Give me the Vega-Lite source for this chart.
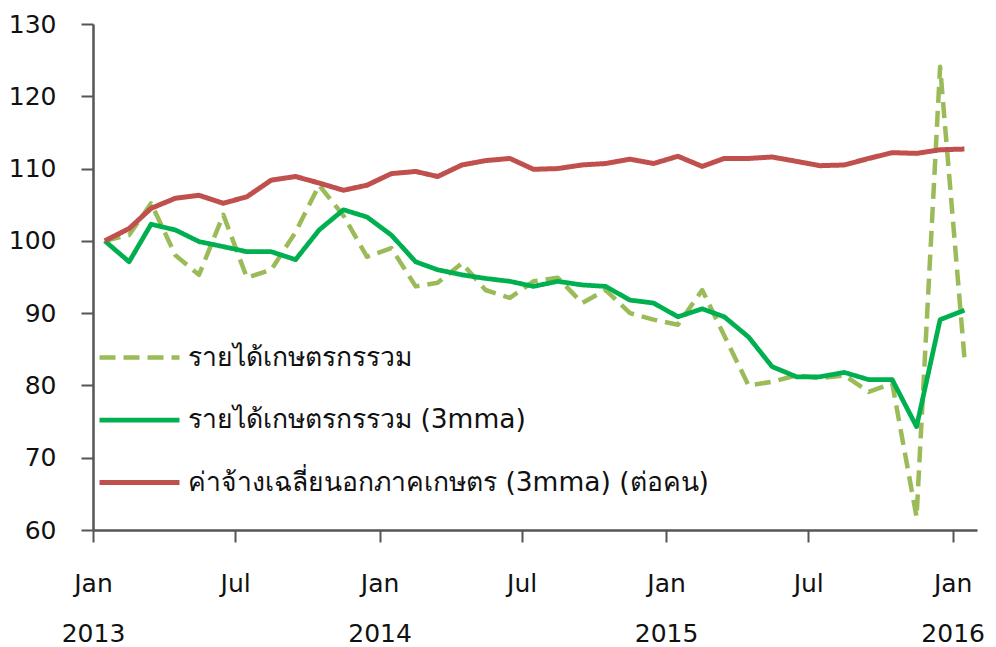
{
  "$schema": "https://vega.github.io/schema/vega-lite/v6.json",
  "width": 884,
  "height": 506,
  "autosize": "none",
  "padding": {"left": 93, "top": 24, "right": 19, "bottom": 117},
  "background": "white",
  "config": {
    "view": {"stroke": null},
    "font": "DejaVu Sans",
    "axis": {"grid": false}
  },
  "data": {
    "values": [
      {"m": "2013-01", "d": 100, "g": 100, "r": 100},
      {"m": "2013-02", "d": 100.8, "g": 97.1, "r": 101.7},
      {"m": "2013-03", "d": 105.2, "g": 102.3, "r": 104.5},
      {"m": "2013-04", "d": 98, "g": 101.5, "r": 105.9},
      {"m": "2013-05", "d": 95.3, "g": 99.9, "r": 106.3},
      {"m": "2013-06", "d": 103.6, "g": 99.2, "r": 105.2},
      {"m": "2013-07", "d": 94.9, "g": 98.5, "r": 106.1},
      {"m": "2013-08", "d": 96, "g": 98.5, "r": 108.4},
      {"m": "2013-09", "d": 101.2, "g": 97.4, "r": 108.9},
      {"m": "2013-10", "d": 107.7, "g": 101.5, "r": 108.0},
      {"m": "2013-11", "d": 103.5, "g": 104.3, "r": 107.0},
      {"m": "2013-12", "d": 97.8, "g": 103.3, "r": 107.7},
      {"m": "2014-01", "d": 99, "g": 100.8, "r": 109.3},
      {"m": "2014-02", "d": 93.7, "g": 97.1, "r": 109.6},
      {"m": "2014-03", "d": 94.2, "g": 96.0, "r": 108.9},
      {"m": "2014-04", "d": 96.9, "g": 95.3, "r": 110.5},
      {"m": "2014-05", "d": 93.2, "g": 94.8, "r": 111.1},
      {"m": "2014-06", "d": 92.1, "g": 94.4, "r": 111.4},
      {"m": "2014-07", "d": 94.4, "g": 93.7, "r": 109.9},
      {"m": "2014-08", "d": 94.9, "g": 94.4, "r": 110.0},
      {"m": "2014-09", "d": 91.4, "g": 93.9, "r": 110.5},
      {"m": "2014-10", "d": 93.2, "g": 93.7, "r": 110.7},
      {"m": "2014-11", "d": 90.0, "g": 91.8, "r": 111.3},
      {"m": "2014-12", "d": 89.1, "g": 91.4, "r": 110.7},
      {"m": "2015-01", "d": 88.4, "g": 89.5, "r": 111.7},
      {"m": "2015-02", "d": 93.2, "g": 90.6, "r": 110.3},
      {"m": "2015-03", "d": 86.9, "g": 89.5, "r": 111.4},
      {"m": "2015-04", "d": 80.0, "g": 86.7, "r": 111.4},
      {"m": "2015-05", "d": 80.5, "g": 82.6, "r": 111.6},
      {"m": "2015-06", "d": 81.4, "g": 81.2, "r": 111.0},
      {"m": "2015-07", "d": 81.0, "g": 81.2, "r": 110.4},
      {"m": "2015-08", "d": 81.4, "g": 81.8, "r": 110.5},
      {"m": "2015-09", "d": 79.1, "g": 80.8, "r": 111.4},
      {"m": "2015-10", "d": 80.3, "g": 80.8, "r": 112.2},
      {"m": "2015-11", "d": 61.8, "g": 74.3, "r": 112.1},
      {"m": "2015-12", "d": 124.1, "g": 89.1, "r": 112.6},
      {"m": "2016-01", "d": 83.8, "g": 90.4, "r": 112.7}
    ]
  },
  "transform": [
    {"fold": ["d", "g", "r"], "as": ["key", "value"]},
    {"lookup": "key", "from": {"data": {"values": [
      {"key": "d", "series": "รายได้เกษตรกรรวม"},
      {"key": "g", "series": "รายได้เกษตรกรรวม (3mma)"},
      {"key": "r", "series": "ค่าจ้างเฉลี่ยนอกภาคเกษตร (3mma) (ต่อคน)"}
    ]}, "key": "key", "fields": ["series"]}},
    {"calculate": "datetime(toNumber(substring(datum.m,0,4)), toNumber(substring(datum.m,5,7))-1, 16)", "as": "date"}
  ],
  "mark": {"type": "line", "strokeCap": "butt", "strokeJoin": "round"},
  "encoding": {
    "x": {
      "field": "date",
      "type": "temporal",
      "scale": {"domain": [{"year": 2013, "month": 1, "date": 1}, {"year": 2016, "month": 2, "date": 1}]},
      "axis": {
        "title": null,
        "values": [
          {"year": 2013, "month": 1, "date": 1},
          {"year": 2013, "month": 7, "date": 1},
          {"year": 2014, "month": 1, "date": 1},
          {"year": 2014, "month": 7, "date": 1},
          {"year": 2015, "month": 1, "date": 1},
          {"year": 2015, "month": 7, "date": 1},
          {"year": 2016, "month": 1, "date": 1}
        ],
        "labelExpr": "month(datum.value) == 0 ? ['Jan', timeFormat(datum.value, '%Y')] : 'Jul'",
        "labelFontSize": 25,
        "labelColor": "#111111",
        "labelLineHeight": 50,
        "labelPadding": 29,
        "labelDx": 11,
        "labelAlign": "center",
        "labelBaseline": "top",
        "labelFlush": false,
        "labelOverlap": false,
        "domainColor": "#555555",
        "domainWidth": 2.5,
        "tickColor": "#555555",
        "tickWidth": 2,
        "tickSize": 12
      }
    },
    "y": {
      "field": "value",
      "type": "quantitative",
      "scale": {"domain": [60, 130], "nice": false, "zero": false},
      "axis": {
        "title": null,
        "values": [60, 70, 80, 90, 100, 110, 120, 130],
        "labelFontSize": 25,
        "labelColor": "#111111",
        "labelPadding": 25,
        "domainColor": "#555555",
        "domainWidth": 2.5,
        "tickColor": "#555555",
        "tickWidth": 2,
        "tickSize": 12
      }
    },
    "color": {
      "field": "series",
      "type": "nominal",
      "scale": {
        "domain": ["รายได้เกษตรกรรวม", "รายได้เกษตรกรรวม (3mma)", "ค่าจ้างเฉลี่ยนอกภาคเกษตร (3mma) (ต่อคน)"],
        "range": ["#9BBB59", "#00B050", "#C0504D"]
      },
      "legend": {
        "title": null,
        "orient": "none",
        "legendX": 4,
        "legendY": 291,
        "symbolType": "stroke",
        "symbolSize": 6400,
        "symbolStrokeWidth": 5,
        "labelFontSize": 26.5,
        "labelColor": "#111111",
        "labelOffset": 6,
        "rowPadding": 6.5,
        "labelLimit": 800,
        "padding": 0
      }
    },
    "strokeDash": {
      "field": "series",
      "type": "nominal",
      "scale": {
        "domain": ["รายได้เกษตรกรรวม", "รายได้เกษตรกรรวม (3mma)", "ค่าจ้างเฉลี่ยนอกภาคเกษตร (3mma) (ต่อคน)"],
        "range": [[16, 8], [1, 0], [1, 0]]
      },
      "legend": null
    },
    "strokeWidth": {
      "field": "series",
      "type": "nominal",
      "scale": {
        "domain": ["รายได้เกษตรกรรวม", "รายได้เกษตรกรรวม (3mma)", "ค่าจ้างเฉลี่ยนอกภาคเกษตร (3mma) (ต่อคน)"],
        "range": [4.5, 5, 5]
      },
      "legend": null
    }
  }
}
